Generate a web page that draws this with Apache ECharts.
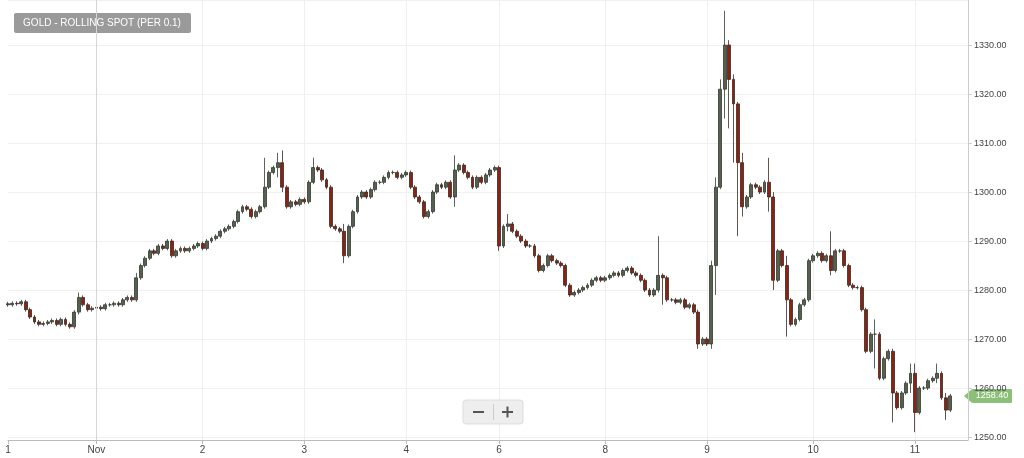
<!DOCTYPE html>
<html><head><meta charset="utf-8">
<script src="https://cdn.jsdelivr.net/npm/echarts@6/dist/echarts.min.js"></script>
<style>html,body{margin:0;padding:0;background:#fff}#c{width:1024px;height:458px}</style>
</head><body><div id="c"></div>
<script>
const closes = [
1277,1277.3,1277.2,1277.6,1276,1274.5,1273.5,1273,1273.2,1273.5,
1273.8,1273,1274,1273,1272.5,1275.5,1278.5,1277,1276,1276.3,
1276.5,1276.2,1277,1277,1277.3,1277,1278,1278.5,1278,1282.5,
1285,1286.5,1288,1287.5,1289,1288.5,1290,1287,1288,1288.5,
1288,1288.5,1289,1289.5,1288.5,1290,1290.5,1291,1292,1292.5,
1293,1294,1296,1297,1296.5,1295,1296,1297,1301,1304,
1305,1306,1301,1297,1298,1297.5,1298.5,1298,1302,1305,
1304.5,1302.5,1301,1293,1292.5,1292,1287,1293,1296,1299,
1300,1299,1300.5,1302,1302,1303,1304,1304,1303,1303.5,
1304,1301,1299,1298,1295,1296,1300,1301.5,1301,1302,
1299,1304.5,1305.5,1304,1303,1301,1303,1302,1303.5,1304.5,
1305,1289,1293,1293.5,1292,1291,1290,1289,1289,1287,
1284,1285,1287,1286,1285.5,1285,1281,1279,1279.5,1280,
1280.5,1281,1282,1282.5,1282,1282.5,1283,1283.5,1283,1284,
1284.5,1283.5,1283,1282,1280,1279,1280,1283,1282.5,1278,
1278,1277.5,1278,1276.5,1277,1275.5,1269,1270,1269,1285,
1301,1321,1330,1323,1318,1306,1297,1299,1301.5,1301,
1300,1302,1299,1282,1288,1285,1278,1273,1274,1277,
1278,1286,1287,1287.5,1286,1287,1284,1288,1288,1285,
1281,1280.5,1280.5,1276,1267.5,1271,1271,1262,1266,1267.5,
1259,1256,1259,1261,1263,1255,1260,1260,1261.5,1262,1263,1258,1255.5,1258.4
];
const firstOpen = 1277.2;
const lastPrice = 1258.4;
// notable wicks: [index, high, low]
const wicks = [
[16,1279.5,1275],[29,1283.5,1278],[58,1307,1300],[61,1308,1303],[62,1308.5,1300],[69,1307,1302],
[76,1293.5,1285.5],[101,1307.5,1297],[111,1305,1288],[113,1295.5,1292],[147,1291,1279.5],
[148,1283,1277],[156,1276,1268],[159,1286,1268],[160,1303,1279],[161,1323,1303],[162,1337,1315],
[163,1331,1313],[164,1324,1306],[165,1313,1291],[166,1308,1295],[172,1307,1296],[173,1300,1280],
[176,1287,1270.5],[186,1292,1283],[196,1274,1264],[200,1268,1253],[205,1265,1251],[204,1265,1259],
[210,1265,1261],[212,1259,1253.5]
];
const dayLabels = {0:'1',20:'Nov',44:'2',67:'3',90:'4',111:'6',135:'8',158:'9',182:'10',205:'11'};
const slots = 218;

const cats = []; for (let i=0;i<slots;i++) cats.push(String(i));
const wickMap = {}; wicks.forEach(w=>wickMap[w[0]]=w);
const data = closes.map((c,i)=>{
  const o = i===0 ? firstOpen : closes[i-1];
  let h = Math.max(o,c)+0.4, l = Math.min(o,c)-0.4;
  if (wickMap[i]) { h = Math.max(h,wickMap[i][1]); l = Math.min(l,wickMap[i][2]); }
  return [o,c,l,h];
});

const chart = echarts.init(document.getElementById('c'));
chart.setOption({
  animation:false,
  grid:{left:8,right:56,top:0,bottom:18},
  xAxis:{type:'category',data:cats,boundaryGap:false,
    axisLine:{lineStyle:{color:'#bbb'}},
    axisTick:{show:true,interval:(i)=>dayLabels[i]!==undefined,lineStyle:{color:'#bbb'},length:4},
    axisLabel:{interval:(i)=>dayLabels[i]!==undefined,formatter:(v,i)=>dayLabels[i]||'',color:'#444',fontSize:10,fontFamily:'Helvetica, Arial, sans-serif',margin:5},
    splitLine:{show:true,interval:(i)=>dayLabels[i]!==undefined&&i>0,lineStyle:{color:'#efefef'}}
  },
  yAxis:{type:'value',position:'right',min:1249.4,max:1339.2,splitNumber:9,scale:true,
    axisLine:{show:true,lineStyle:{color:'#ccc'}},
    axisTick:{show:true,lineStyle:{color:'#ccc'},length:4},
    axisLabel:{showMinLabel:false,showMaxLabel:false,formatter:v=>v.toFixed(2),color:'#444',fontSize:9,fontFamily:'Helvetica, Arial, sans-serif',margin:6},
    splitLine:{lineStyle:{color:'#f0f0f0'}}
  },
  series:[{type:'candlestick',data:data,barWidth:3.4,
    itemStyle:{color:'#56604f',color0:'#8b2314',borderColor:'#333a30',borderColor0:'#3a2a22',borderWidth:0.8},
    markLine:{symbol:'none',silent:true,data:[{xAxis:'20'}],lineStyle:{color:'#d6d6d6',type:'solid',width:1},label:{show:false}}
  }]
});
const py = chart.convertToPixel({yAxisIndex:0}, lastPrice);
chart.setOption({graphic:[
    {type:'rect',shape:{x:14,y:13,width:177,height:20,r:2},style:{fill:'#9a9a9a'}},
    {type:'text',style:{x:102,y:23,text:'GOLD - ROLLING SPOT (PER 0.1)',fill:'#fff',font:'10px Helvetica, Arial, sans-serif',align:'center',verticalAlign:'middle'}},
    {type:'rect',shape:{x:463,y:400,width:60,height:24,r:3},style:{fill:'#eeeeee',stroke:'#dddddd'}},
    {type:'rect',shape:{x:493,y:404,width:1,height:16},style:{fill:'#cccccc'}},
    {type:'rect',shape:{x:473,y:411,width:11,height:2},style:{fill:'#555'}},
    {type:'rect',shape:{x:502,y:411,width:11,height:2},style:{fill:'#555'}},
    {type:'rect',shape:{x:506.5,y:406.5,width:2,height:11},style:{fill:'#555'}},
    {type:'polygon',shape:{points:[[964,py],[972,py-7],[972,py+7]]},style:{fill:'#8cc07a'}},
    {type:'rect',shape:{x:972,y:py-7,width:40,height:14,r:1},style:{fill:'#8cc07a'}},
    {type:'text',style:{x:992,y:py,text:lastPrice.toFixed(2),fill:'#fff',font:'9px Helvetica, Arial, sans-serif',align:'center',verticalAlign:'middle'}}
]});
</script></body></html>
